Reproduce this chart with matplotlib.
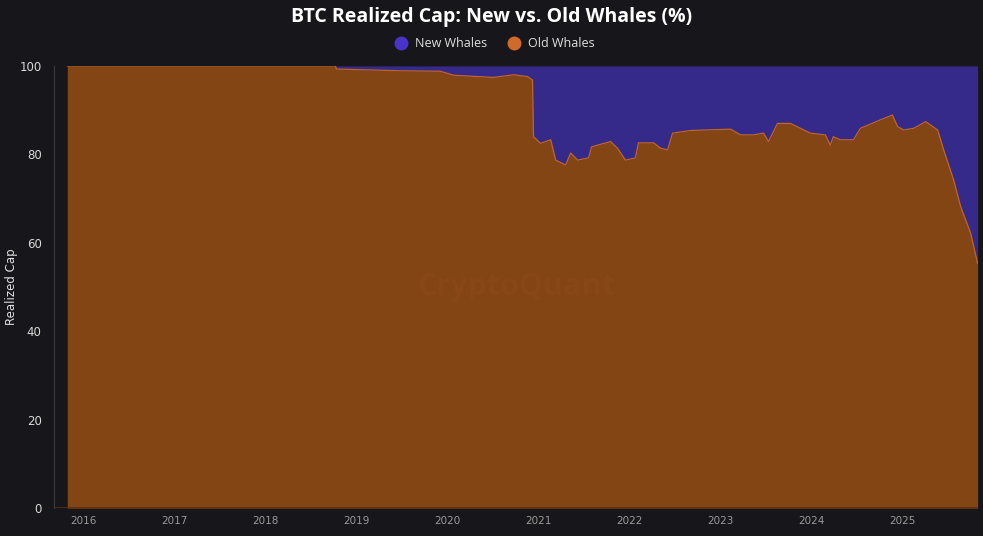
import pandas as pd
import matplotlib.pyplot as plt
import matplotlib.dates as mdates
from matplotlib.lines import Line2D

# share of realized cap held by old whales (%)
dates = ["2015-10-28", "2018-10-08", "2018-10-12", "2019-06-26", "2019-12-03",
         "2020-01-25", "2020-07-03", "2020-09-22", "2020-11-17", "2020-12-07",
         "2020-12-11", "2021-01-08", "2021-02-18", "2021-03-10", "2021-04-19",
         "2021-05-09", "2021-06-06", "2021-07-20", "2021-08-01", "2021-10-16",
         "2021-11-13", "2021-12-15", "2022-01-24", "2022-02-05", "2022-04-07",
         "2022-05-05", "2022-06-02", "2022-06-22", "2022-09-02", "2023-02-10",
         "2023-03-22", "2023-05-13", "2023-06-22", "2023-07-12", "2023-08-17",
         "2023-10-08", "2023-11-17", "2023-12-27", "2024-02-25", "2024-03-16",
         "2024-03-28", "2024-04-25", "2024-06-17", "2024-07-15", "2024-10-03",
         "2024-11-20", "2024-12-11", "2025-01-04", "2025-02-14", "2025-04-03",
         "2025-05-21", "2025-06-14", "2025-07-24", "2025-08-21", "2025-09-30",
         "2025-10-28"]
old_whales = [100, 100, 99.3, 98.9, 98.8,
              97.9, 97.4, 98.0, 97.6, 96.8,
              84.0, 82.5, 83.3, 78.7, 77.6,
              80.3, 78.7, 79.2, 81.7, 82.9,
              81.4, 78.7, 79.2, 82.6, 82.6,
              81.4, 81.0, 84.8, 85.4, 85.7,
              84.4, 84.4, 84.8, 82.9, 87.0,
              87.0, 85.9, 84.8, 84.4, 82.1,
              84.0, 83.3, 83.3, 85.9, 87.8,
              88.9, 86.3, 85.5, 85.9, 87.4,
              85.5, 81.0, 74.2, 68.2, 62.2,
              55.4]
years = list(range(2016, 2026))

x = pd.to_datetime(dates)
bg = "#17171b"

fig = plt.figure(figsize=(9.83, 5.36), dpi=100, facecolor=bg)
ax = fig.add_axes([0.055, 0.052, 0.94, 0.825], facecolor=bg)
plt.rcParams['font.family'] = ['Open Sans', 'DejaVu Sans']

ax.fill_between(x, old_whales, 100, color="#35298a", lw=0)
ax.fill_between(x, 0, old_whales, color="#844515", lw=0)
ax.plot(x, old_whales, color="#c0652c", lw=0.9)
ax.axhline(0, color="#5a2e0e", lw=1.2)

ax.set_ylim(0, 100)
ax.set_xlim(pd.Timestamp("2015-09-05"), pd.Timestamp("2025-10-30"))
ax.set_yticks(range(0, 101, 20))
ax.set_xticks([pd.Timestamp(f"{y}-01-01") for y in years])
ax.xaxis.set_major_formatter(mdates.DateFormatter("%Y"))
ax.tick_params(axis="x", colors="#9a9a9a", labelsize=7.5, length=0, pad=6)
ax.tick_params(axis="y", colors="#d8d8d8", labelsize=8.5, length=0, pad=9)
for s in ["top", "right", "bottom"]:
    ax.spines[s].set_visible(False)
ax.spines["left"].set_color("#3a3a40")
ax.spines["left"].set_linewidth(0.8)
ax.set_ylabel("Realized Cap", color="#e0e0e0", fontsize=8.5)
ax.yaxis.set_label_coords(-0.039, 0.5)

ax.text(0.5, 0.5, "CryptoQuant", transform=ax.transAxes, fontsize=22,
        fontweight="bold", color="#874717", ha="center", va="center")

fig.text(0.5, 0.968, "BTC Realized Cap: New vs. Old Whales (%)", color="white",
         fontsize=14, fontweight="bold", ha="center", va="center")
handles = [Line2D([], [], marker="o", ls="", ms=9, color="#4a33c9"),
           Line2D([], [], marker="o", ls="", ms=9, color="#d06a2a")]
fig.legend(handles, ["New Whales", "Old Whales"], loc="center",
           bbox_to_anchor=(0.5, 0.918), ncol=2, frameon=False, fontsize=9,
           labelcolor="#e0e0e0", handletextpad=0.1, columnspacing=1.2)

fig.savefig("out.png", dpi=100, facecolor=bg)
